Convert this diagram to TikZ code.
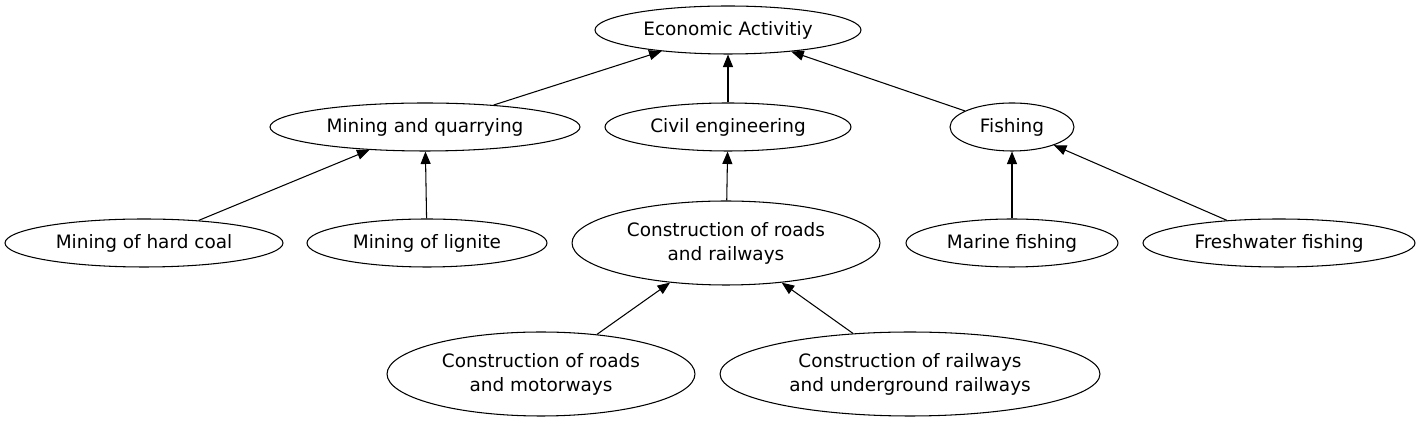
\documentclass[tikz,border=0pt]{standalone}
\usepackage{fontspec}
\setmainfont{DejaVu Sans}
\usepackage{tikz}
\usetikzlibrary{positioning,arrows.meta,shapes.geometric}

\begin{document}
\begin{tikzpicture}[x=0.02cm, y=-0.02cm, ->, >={Triangle[length=2.5mm, width=2mm]}, main/.style = {ellipse, draw, fill=none, line width=0.6pt, inner sep=0pt, minimum height=0.96cm, align=center, font=\fontsize{10.5}{13.7}\selectfont}, tall/.style={minimum height=1.68cm}, every edge/.append style={line width=0.6pt}]

\useasboundingbox (0,0) rectangle (1420,421);

% top level
\node[main, minimum width=5.32cm] (1) at (728,30) {Economic Activitiy};

% second level
\node[main, minimum width=6.2cm] (2) at (425,127) {Mining and quarrying};
\node[main, minimum width=4.92cm] (3) at (728,127) {Civil engineering};
\node[main, minimum width=2.48cm] (4) at (1012,127) {Fishing};

% third level
\node[main, minimum width=5.56cm] (5) at (144,243) {Mining of hard coal};
\node[main, minimum width=4.8cm] (6) at (427,243) {Mining of lignite};
\node[main, tall, minimum width=6.16cm] (7) at (726,243) {Construction of roads\\and railways};
\node[main, minimum width=4.24cm] (8) at (1012,243) {Marine fishing};
\node[main, minimum width=5.44cm] (9) at (1279,243) {Freshwater fishing};

% fourth level
\node[main, tall, minimum width=6.16cm] (10) at (541,374) {Construction of roads\\and motorways};
\node[main, tall, minimum width=7.6cm] (11) at (910,374) {Construction of railways\\and underground railways};

\path
 (2) edge (1)
 (3) edge (1)
 (4) edge (1)
 (5) edge (2)
 (6) edge (2)
 (7) edge (3)
 (8) edge (4)
 (9) edge (4)
 (10) edge (7)
 (11) edge (7);
\end{tikzpicture}
\end{document}
